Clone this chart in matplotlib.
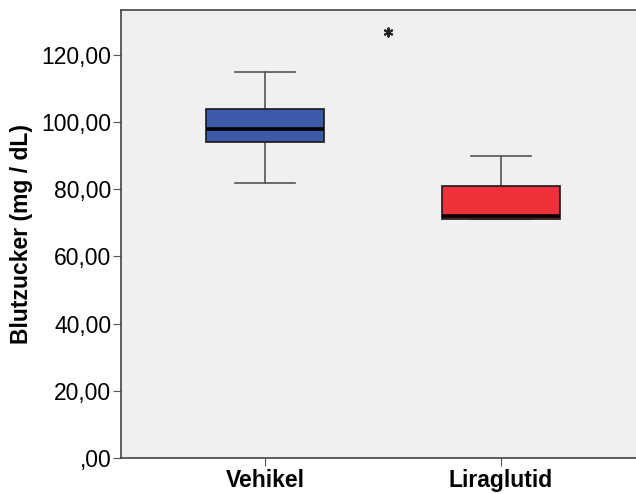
import matplotlib
matplotlib.use("Agg")
import matplotlib.pyplot as plt
from matplotlib.ticker import FuncFormatter

plt.rcParams["font.family"] = ["Liberation Sans", "DejaVu Sans"]

# box statistics (mg/dL)
groups = ["Vehikel", "Liraglutid"]
whisker_low = [82.0, 71.1]
q1 = [94.0, 71.1]
median = [98.0, 72.2]
q3 = [103.9, 81.1]
whisker_high = [115.0, 90.0]
box_colors = ["#3E5BA9", "#EE313B"]

# extreme value marker
star_x = 1.52
star_y = 126.9

y_ticks = [0, 20, 40, 60, 80, 100, 120]

fig = plt.figure(figsize=(6.36, 4.94), dpi=100)
ax = fig.add_axes([0.1903, 0.0729, 0.8097, 0.9069])
ax.set_facecolor("#F0F0F0")

stats = []
for i, name in enumerate(groups):
    stats.append({
        "label": name,
        "whislo": whisker_low[i],
        "q1": q1[i],
        "med": median[i],
        "q3": q3[i],
        "whishi": whisker_high[i],
        "fliers": [],
    })

bp = ax.bxp(
    stats,
    positions=[1, 2],
    widths=0.5,
    patch_artist=True,
    showfliers=False,
    boxprops=dict(edgecolor="#1a1a1a", linewidth=1.2),
    medianprops=dict(color="black", linewidth=2.6),
    whiskerprops=dict(color="#555555", linewidth=1.2),
    capprops=dict(color="#555555", linewidth=1.2),
    capwidths=0.255,
)
for patch, c in zip(bp["boxes"], box_colors):
    patch.set_facecolor(c)
    patch.set_zorder(3)
for line in bp["medians"]:
    line.set_zorder(4)

ax.plot([star_x], [star_y], linestyle="none", marker=(6, 2, 0),
        markersize=7, markeredgewidth=1.4, color="#222222")

ax.set_xlim(0.39, 2.573)
ax.set_ylim(0, 133.4)
ax.set_yticks(y_ticks)
ax.yaxis.set_major_formatter(FuncFormatter(
    lambda v, p: ",00" if v == 0 else f"{int(v)},00"))
ax.tick_params(axis="y", labelsize=16.5, length=6, color="#555555", pad=1)
ax.tick_params(axis="x", labelsize=16.5, length=5.8, color="#555555", pad=2)
for lab in ax.get_xticklabels():
    lab.set_fontweight("bold")

ax.set_ylabel("Blutzucker (mg / dL)", fontsize=16.5, fontweight="bold", labelpad=6)

for side in ["left", "bottom", "top"]:
    ax.spines[side].set_color("#444444")
    ax.spines[side].set_linewidth(1.2)
ax.spines["right"].set_visible(False)

fig.savefig("out.png", dpi=100)
